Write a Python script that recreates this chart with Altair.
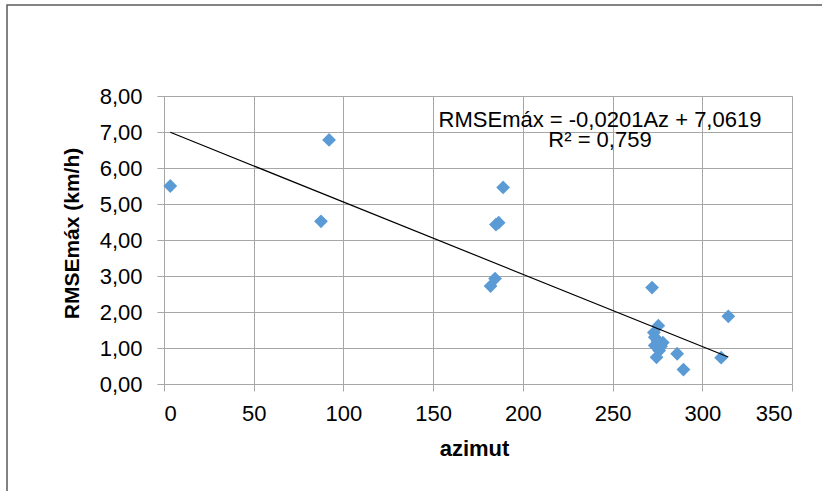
import altair as alt
import pandas as pd

azimut = [3.5, 92, 87.5, 189, 185, 186.5, 184.5, 182, 272, 314.5, 310.5, 289.5, 286,
          275.5, 273, 273.5, 278, 273.5, 276, 274.5, 277, 275]
rmse = [5.50, 6.78, 4.52, 5.46, 4.43, 4.48, 2.93, 2.72, 2.68, 1.88, 0.73, 0.40, 0.84,
        1.62, 1.43, 1.30, 1.15, 1.07, 0.93, 0.74, 1.05, 1.20]
x_ticks = [0, 50, 100, 150, 200, 250, 300, 350]
y_ticks = [0, 1, 2, 3, 4, 5, 6, 7, 8]
eq_lines = ["RMSEmáx = -0,0201Az + 7,0619", "R² = 0,759"]

df = pd.DataFrame({"az": azimut, "rmse": rmse})

FONT = "Liberation Sans"
GRID = "#a6a6a6"

x_enc = alt.X("az:Q", scale=alt.Scale(domain=[0, 350], nice=False),
              axis=alt.Axis(values=x_ticks, title="azimut", grid=True, gridColor=GRID,
                            domainColor=GRID, tickColor=GRID, tickSize=7,
                            labelOverlap=False,
                            labelFontSize=22, labelFont=FONT, labelColor="#000000",
                            labelPadding=12, titleFont=FONT, titleFontSize=22,
                            titleFontWeight="bold", titleColor="#000000",
                            titleX=310, titleY=71, titleBaseline="alphabetic",
                            titleAlign="center"))
y_enc = alt.Y("rmse:Q", scale=alt.Scale(domain=[0, 8], nice=False),
              axis=alt.Axis(values=y_ticks, title="RMSEmáx (km/h)", grid=True, gridColor=GRID,
                            domainColor=GRID, tickColor=GRID, tickSize=7,
                            labelOverlap=False,
                            labelExpr="replace(format(datum.value, '.2f'), '.', ',')",
                            labelFontSize=22, labelFont=FONT, labelColor="#000000",
                            labelPadding=15, titleFont=FONT, titleFontSize=21,
                            titleFontWeight="bold", titleColor="#000000",
                            titleX=-86, titleY=137, titleAngle=-90,
                            titleBaseline="alphabetic", titleAlign="center"))

border = alt.Chart(pd.DataFrame({"k": [0]})).mark_rect(
    fill=None, stroke="#595959", strokeWidth=1.5
).encode(x=alt.value(-157), x2=alt.value(663), y=alt.value(-91), y2=alt.value(400))

points = alt.Chart(df).mark_point(
    shape="diamond", filled=True, color="#5b9bd5", size=190, opacity=1
).encode(x=x_enc, y=y_enc)

trend = alt.Chart(df).transform_regression("az", "rmse", method="linear").mark_line(
    color="#000000", strokeWidth=1.2
).encode(x=x_enc, y=y_enc)

eq1 = alt.Chart(pd.DataFrame({"t": [eq_lines[0]]})).mark_text(
    font=FONT, fontSize=22, color="#000000", align="center", baseline="alphabetic"
).encode(text="t:N", x=alt.value(436), y=alt.value(31))
eq2 = alt.Chart(pd.DataFrame({"t": [eq_lines[1]]})).mark_text(
    font=FONT, fontSize=22, color="#000000", align="center", baseline="alphabetic"
).encode(text="t:N", x=alt.value(436), y=alt.value(51))

chart = alt.layer(border, points, trend, eq1, eq2).properties(
    width=628, height=288,
    autosize=alt.AutoSizeParams(type="none"),
    padding={"left": 164, "top": 96, "right": 30, "bottom": 107},
).configure_view(stroke=None).configure(background="#ffffff")

chart.save("out.html", embed_options={"renderer": "svg", "actions": False})
